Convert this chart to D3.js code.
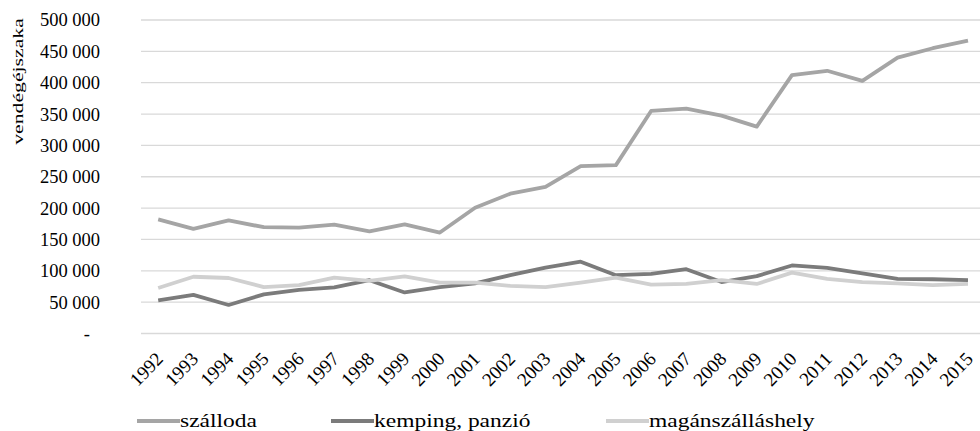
<!DOCTYPE html>
<html>
<head>
<meta charset="utf-8">
<script src="https://cdn.jsdelivr.net/npm/d3@7"></script>
<style>
  svg text { font-family: "Liberation Serif" !important; }
</style>
</head>
<body style="margin:0">
<svg id="chart" width="980" height="431"></svg>
<script>
const years = d3.range(1992, 2016).map(String);
const szalloda = [182000, 167000, 180500, 169500, 169000, 173500, 163000, 174000, 161000, 200500,
  223000, 234000, 267000, 268500, 355000, 358500, 347500, 330000, 412000, 419000,
  403000, 440000, 455000, 467000];
const kemping = [53000, 61500, 45500, 62500, 69500, 73500, 85000, 65500, 74000, 80000,
  93000, 105000, 114500, 93000, 95000, 102500, 82000, 91500, 108500, 104500,
  96000, 87000, 86500, 85000];
const magan = [72500, 90500, 88500, 74000, 77000, 89000, 84000, 91000, 81000, 81000,
  76000, 74000, 81000, 89000, 78000, 79000, 85000, 79000, 97000, 87000,
  82000, 80000, 77000, 79000];
const yTicks = [0, 50000, 100000, 150000, 200000, 250000, 300000, 350000, 400000, 450000, 500000];

const series = [
  { name: "szálloda", values: szalloda, color: "#a5a5a5" },
  { name: "kemping, panzió", values: kemping, color: "#7b7b7b" },
  { name: "magánszálláshely", values: magan, color: "#d0d0d0" }
];

const svg = d3.select("#chart");
const plotLeft = 141, plotRight = 980;

const x = d3.scalePoint().domain(years).range([140.6, 985.6]).padding(0.5);
const y = d3.scaleLinear().domain([0, 500000]).range([333.5, 20]);

const fmt = v => v === 0 ? "-" : d3.format(",")(v).replace(/,/g, " ");

// serif text helper
const serif = sel => sel
  .attr("font-family", "Liberation Serif")
  .style("font-family", d => '"Liberation Serif"');

// gridlines
svg.append("g")
  .selectAll("line")
  .data(yTicks)
  .join("line")
  .attr("x1", plotLeft)
  .attr("x2", plotRight)
  .attr("y1", d => y(d))
  .attr("y2", d => y(d))
  .attr("stroke", "#d9d9d9")
  .attr("stroke-width", 1.3);

// y tick labels
svg.append("g")
  .selectAll("text")
  .data(yTicks)
  .join("text")
  .attr("x", d => d === 0 ? 90 : 100)
  .attr("y", d => y(d))
  .attr("dy", "0.35em")
  .call(serif)
  .style("text-anchor", "end")
  .style("font-size", "18.5px")
  .text(fmt);

// y axis title
svg.append("text")
  .attr("transform", "translate(23,81.5) rotate(-90) scale(1.45,1)")
  .call(serif)
  .style("text-anchor", "middle")
  .style("font-size", "15px")
  .text("vendégéjszaka");

// x tick labels
svg.append("g")
  .selectAll("text")
  .data(years)
  .join("text")
  .attr("transform", d => `translate(${x(d) + 6},360) rotate(-46)`)
  .call(serif)
  .style("text-anchor", "end")
  .style("font-size", "19px")
  .text(d => d);

// lines
const line = d3.line()
  .x((d, i) => x(years[i]))
  .y(d => y(d));

svg.append("g")
  .selectAll("path")
  .data(series)
  .join("path")
  .attr("fill", "none")
  .attr("stroke", d => d.color)
  .attr("stroke-width", 3.8)
  .attr("stroke-linejoin", "round")
  .attr("d", d => line(d.values));

// legend
const legendX = [137, 331, 606];
const legend = svg.append("g")
  .selectAll("g")
  .data(series)
  .join("g")
  .attr("transform", (d, i) => `translate(${legendX[i]},421)`);

legend.append("line")
  .attr("x1", 0)
  .attr("x2", 43)
  .attr("stroke", d => d.color)
  .attr("stroke-width", 3.8);

legend.append("text")
  .attr("transform", "translate(43,0) scale(1.27,1)")
  .attr("dy", "0.35em")
  .call(serif)
  .style("font-size", "18.5px")
  .text(d => d.name);
</script>
</body>
</html>
